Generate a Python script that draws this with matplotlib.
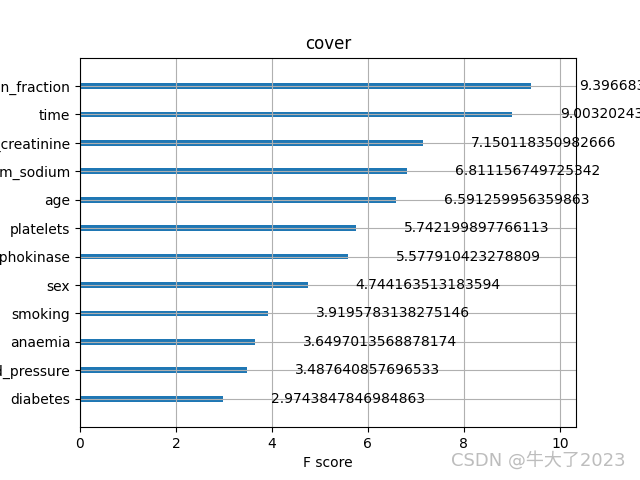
import matplotlib.pyplot as plt
import numpy as np

plt.rcParams['font.family'] = ['DejaVu Sans', 'Noto Sans CJK SC']

# feature importance (cover), sorted ascending for barh
features = ['diabetes', 'high_blood_pressure', 'anaemia', 'smoking', 'sex',
            'creatinine_phosphokinase', 'platelets', 'age', 'serum_sodium',
            'serum_creatinine', 'time', 'ejection_fraction']
scores = [2.9743847846984863, 3.487640857696533, 3.6497013568878174,
          3.9195783138275146, 4.744163513183594, 5.577910423278809,
          5.742199897766113, 6.591259956359863, 6.811156749725342,
          7.150118350982666, 9.003202438354492, 9.396683692932129]


def plot_importance(ax, labels, values):
    ylocs = np.arange(len(values))
    ax.barh(ylocs, values, align='center', height=0.2)
    for x, y in zip(values, ylocs):
        ax.text(x + 1, y, x, va='center')
    ax.set_yticks(ylocs)
    ax.set_yticklabels(labels)
    ax.set_xlim(0, max(values) * 1.1)
    ax.set_ylim(-1, len(values))
    ax.set_title('cover')
    ax.set_xlabel('F score')
    ax.set_ylabel('Features')
    ax.grid(True)


fig, ax = plt.subplots(figsize=(6.4, 4.8), dpi=100)
plot_importance(ax, features, scores)
fig.text(0.978, 0.022, 'CSDN @牛大了2023', ha='right', va='bottom',
         fontsize=13, color='#bdbdbd')
fig.savefig('out.png')
